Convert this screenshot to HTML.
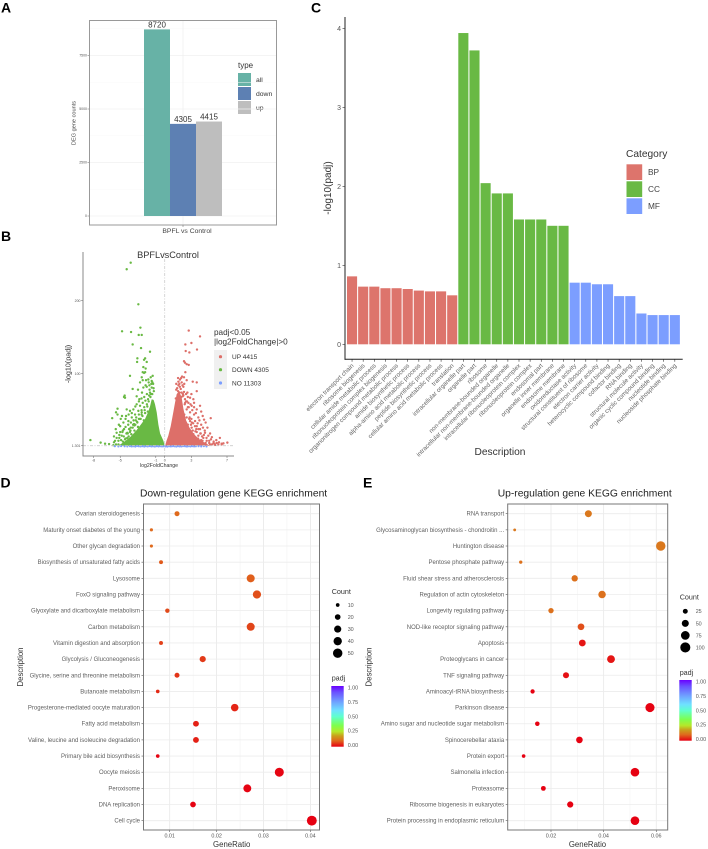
<!DOCTYPE html>
<html lang="en">
<head>
<meta charset="utf-8">
<title>DEG analysis figure</title>
<style>
html,body{margin:0;padding:0;background:#fff;width:708px;height:849px;overflow:hidden}
svg{display:block;font-family:"Liberation Sans",sans-serif;filter:blur(.3px)}
</style>
</head>
<body>
<svg id="fig" xmlns="http://www.w3.org/2000/svg" width="708" height="849" viewBox="0 0 708 849">
<defs>
<linearGradient id="padjGrad" x1="0" y1="1" x2="0" y2="0">
<stop offset="0" stop-color="#e60012"/><stop offset=".1" stop-color="#df6a1d"/><stop offset=".18" stop-color="#c9a01c"/><stop offset=".25" stop-color="#b5e82a"/><stop offset=".35" stop-color="#7dff4e"/><stop offset=".5" stop-color="#5fffd0"/><stop offset=".6" stop-color="#6fe0ff"/><stop offset=".75" stop-color="#6f9cff"/><stop offset=".9" stop-color="#6a50ff"/><stop offset="1" stop-color="#6a00ff"/>
</linearGradient>
</defs>
<rect width="708" height="849" fill="#fff"/>

<g font-weight="700" font-size="14" fill="#000">
<text x="1" y="12.5">A</text>
<text x="1" y="241">B</text>
<text x="311" y="12.5">C</text>
<text x="0.5" y="487.5">D</text>
<text x="363" y="487.5">E</text>
</g>

<g id="panelA">
<text transform="translate(75.5,123) rotate(-90)" text-anchor="middle" font-size="5.6" fill="#444">DEG gene counts</text>
<text x="187" y="233" text-anchor="middle" font-size="6.8" fill="#444">BPFL vs Control</text>
<text x="238" y="68" font-size="8" fill="#333">type</text>
<rect x="238" y="73" width="13" height="13" fill="#67b2a6"/>
<rect x="238" y="87" width="13" height="13" fill="#5d80b3"/>
<rect x="238" y="101" width="13" height="13" fill="#bebebe"/>
<text x="256" y="82" font-size="6.8" fill="#333">all</text>
<text x="256" y="96" font-size="6.8" fill="#333">down</text>
<text x="256" y="110" font-size="6.8" fill="#333">up</text>
</g>

<g id="panelB">
<text x="168" y="258" text-anchor="middle" font-size="9.2" fill="#333">BPFLvsControl</text>
<text transform="translate(70.5,364) rotate(-90)" text-anchor="middle" font-size="7.2" fill="#333">-log10(padj)</text>
<text x="159" y="467" text-anchor="middle" font-size="5.2" fill="#333">log2FoldChange</text>
<text x="214" y="335" font-size="8.2" fill="#333">padj&lt;0.05</text>
<text x="214" y="344.5" font-size="8.2" fill="#333">|log2FoldChange|&gt;0</text>
<rect x="214" y="350" width="13" height="39" fill="#f0f0f0"/>
<circle cx="220.5" cy="356.7" r="1.6" fill="#dd6f69"/>
<circle cx="220.5" cy="369.7" r="1.6" fill="#69b944"/>
<circle cx="220.5" cy="383" r="1.6" fill="#7c9eff"/>
<text x="232" y="359" font-size="6.5" fill="#333">UP 4415</text>
<text x="232" y="372" font-size="6.5" fill="#333">DOWN 4305</text>
<text x="232" y="385.5" font-size="6.5" fill="#333">NO 11303</text>
</g>

<g id="panelC">
<text transform="translate(331,188) rotate(-90)" text-anchor="middle" font-size="10" fill="#333">-log10(padj)</text>
<text x="500" y="455" text-anchor="middle" font-size="10.2" fill="#333">Description</text>
<text x="626" y="157" font-size="10.2" fill="#333">Category</text>
<rect x="626.5" y="164.3" width="15.7" height="15.7" fill="#dd746c"/>
<rect x="626.5" y="181.3" width="15.7" height="15.7" fill="#69b944"/>
<rect x="626.5" y="198.3" width="15.7" height="15.7" fill="#7c9eff"/>
<text x="648" y="175" font-size="8.3" fill="#444">BP</text>
<text x="648" y="192" font-size="8.3" fill="#444">CC</text>
<text x="648" y="209" font-size="8.3" fill="#444">MF</text>
</g>

<g id="panelD">
<text x="140" y="496.7" font-size="10.3" fill="#222">Down-regulation gene KEGG enrichment</text>
<text transform="translate(23,667) rotate(-90)" text-anchor="middle" font-size="7.8" fill="#333">Description</text>
<text x="231.7" y="847" text-anchor="middle" font-size="7.8" fill="#333">GeneRatio</text>
<text x="331.7" y="594" font-size="7.2" fill="#333">Count</text>
<text x="331.7" y="680.7" font-size="7.2" fill="#333">padj</text>
<rect x="331.3" y="686" width="12.4" height="60.7" fill="url(#padjGrad)"/>
</g>

<g id="panelE">
<text x="497.7" y="496.7" font-size="10.3" fill="#222">Up-regulation gene KEGG enrichment</text>
<text transform="translate(371.3,667) rotate(-90)" text-anchor="middle" font-size="7.8" fill="#333">Description</text>
<text x="587.5" y="847" text-anchor="middle" font-size="7.8" fill="#333">GeneRatio</text>
<text x="679.7" y="599.3" font-size="7.2" fill="#333">Count</text>
<text x="679.7" y="675" font-size="7.2" fill="#333">padj</text>
<rect x="679.3" y="680" width="12.4" height="60.7" fill="url(#padjGrad)"/>
</g>
</svg>

<script>
/* ---------- Panel A data ---------- */
const aTypes = ["all","down","up"];
const aCounts = [8720,4305,4415];
const aColors = ["#67b2a6","#5d80b3","#bebebe"];
const aTicks = [0,2500,5000,7500];
const aMinorTicks = [1250,3750,6250,8750];

/* ---------- Panel B data ---------- */
const bXTicks = [-8,-5,-1,0,3,7];
const bYTicks = [1.301,100,200];
const bDownFC = [-3.82,-4.27,-2.96,-2.73,-4.79,-3.78,-2.92,-2.58,-3.6,-2.66,-1.65,-2.2,-3.07,-3.1,-2.32,-2.02,-2.4,-2.14,-3.9,-2.47,-2.2,-1.35,-1.57,-1.46,-1.84,-2.1,-2.47,-2.32,-2.58,-2.77,-2.02,-1.72,-1.46,-2.4,-3,-3.6,-3.15,-2.85,-4.57,-4.5,-4.46,-1.65,-1.87,-2.17,-2.47,-2.77,-3.15,-3.52,-3.9,-4.27,-5.3,-5.47,-5.9,-5.3,-4.94,-4.64,-4.34,-4.08,-3.7,-3.33,-2.96,-2.58,-5,-4.57,-4.2,-3.82,-3.45,-3.07,-5.4,-4.83,-4.46,-5.58,-5.2,-8.35,-7.2,-6.7,-6.25,-5.77,-5.47,-1.3,-1.22,-1.55,-1.75,-1.95,-2.25,-2.6,-2.9,-3.25,-3.55,-3.85,-4.15,-4.75,-5.1,-2.05,-2.35,-2.7,-3.0,-3.4,-3.75,-4.05,-4.4,-1.4,-1.6,-1.9,-2.2,-2.85,-3.2,-3.65];
const bDownLog = [252,243,195,163,158,157,153,153,140,135,130,121,121,116,119,116,109,107,97,102,102,97,95,90,92,91,91,101,95,88,82,84,81,81,78,79,69,65,68,70,67,74,65,63,60,56,58,51,49,51,52,47,39,44,38,33,42,35,40,44,49,47,28,24,19,26,31,33,19,15,10,8,3,9,5.5,4,3.6,2,3,86,76,72,70,55,50,44,38,36,30,22,18,20,12,7,36,38,27,29,17,14,11,60,52,48,46,24,16,10];
const bDownExtraFC = [-1.4,-1.6,-1.8,-2,-2.3,-2.6,-2.9,-3.2,-3.5,-3.8,-4.1,-4.4,-4.7,-5.1,-5.4,-5.7,-3.3,-3.6,-4,-4.3,-4.6,-4.9,-2.5,-2.8,-3.1,-1.7,-2,-2.3,-2.6,-1.5,-1.8,-2.15,-2.55,-2.9,-3.3,-3.7,-4.05,-4.4,-4.8,-5.15,-5.5,-5.7,-5,-3,-3.4,-3.9,-4.2,-4.7,-5.2,-1.25,-1.38];
const bDownExtraLog = [72,68,62,58,54,50,44,40,36,33,30,27,22,16,12,6,30,26,24,18,14,9,42,38,34,78,72,68,66,86,88,84,74,62,55,46,44,38,42,30,24,14,20,27,22,20,12,7,8,80,88];
const bUpFC = [2.7,3.97,3,2.32,3.63,2.36,2.77,2.17,2.28,2.47,2.7,2.32,1.95,2.17,1.72,2.47,1.54,1.91,3.15,3.6,2.1,1.54,1.8,2.17,3.6,2.55,2.85,3.22,3.97,3.6,3.03,2.66,2.28,2.02,2.47,2.85,3.3,4.27,5.17,4.42,3.78,3.41,2.85,2.47,3.03,3.6,3.97,2.66,2.28,3.22,3.78,4.53,4.9,4.34,6.2,4.72,5.47,6.03,6.6,7.04,3.97,3.41,2.85,5.1,5.66,1.3,1.45,1.65,1.85,2.05,2.25,2.4,2.6,1.25,1.5,1.75,1.95,2.2,2.95,3.15,3.45,3.75,4.1,4.6,5.0,5.3,5.85,6.4,2.75,3.05,3.35,3.55,4.05,4.25];
const bUpLog = [159,151,142,140,133,131,129,117,115,113,112,102,96,95,92,91,89,88,89,88,82,84,79,75,76,74,67,65,56,51,56,60,65,69,51,47,44,42,39,37,40,35,35,40,26,28,24,24,28,17,15,19,15,12,12,8,4.5,3,4.5,5.5,5.5,10,15,3,2.3,78,70,74,68,72,58,62,54,66,60,55,50,44,30,22,21,11,9,5,5,3,5,4,38,33,13,24,18,8];
const bUpExtraFC = [1.4,1.5,1.7,1.9,2.1,2.3,2.5,2.7,2.9,3.1,3.3,3.5,3.7,3.9,4.1,4.3,4.5,4.7,5,5.2,5.5,5.8,6.1,6.4,2.6,2.8,3,3.2,3.4,3.6,3.8,4,4.2,4.4,1.3,1.5,1.65,1.85,2,2.2,2.4,2.6,3,3.3,4.1,4.6,4.8,5.1,5.3,5.6];
const bUpExtraLog = [80,76,82,74,70,60,62,54,58,50,54,46,32,36,30,26,22,12,8,10,7,9,6,3,30,40,38,32,28,20,24,18,14,16,86,94,86,94,84,86,72,68,72,60,48,33,26,18,13,4];
const bNoFC = [-5.6,-5.2,-4.9,-4.5,-4.2,-3.9,-3.7,-3.5,-3.3,-3.1,-2.9,-2.7,-2.5,-2.3,-2.1,-1.9,-1.7,-1.5,-1.3,-1.1,-0.9,-0.7,-0.5,-0.3,-0.1,0.1,0.3,0.5,0.7,0.9,1.1,1.3,1.5,1.7,1.9,2.1,2.3,2.5,2.7,2.9,3.1,3.3,3.5,3.8,4.1,4.4,4.7];
const bNoLog = [0.6,0.4,0.8,0.5,0.3,0.7,0.4,0.6,0.2,0.9,0.5,0.3,0.7,0.2,0.6,0.4,0.8,0.3,0.5,0.2,0.7,0.4,0.6,0.3,0.5,0.4,0.2,0.6,0.3,0.7,0.5,0.2,0.6,0.4,0.3,0.8,0.5,0.2,0.6,0.4,0.7,0.3,0.5,0.6,0.4,0.7,0.3];
const bDownCloudFC = [0,-0.15,-0.52,-0.71,-0.9,-1.09,-1.25,-1.46,-1.65,-1.84,-2.2,-2.7,-3.2,-3.8,-4.4,-5,-5.3];
const bDownCloudLog = [1.3,8,18,30,47,58,64,65,55,48,38,30,22,14,8,3,1.3];
const bUpCloudFC = [0.05,0.2,0.41,0.67,0.97,1.16,1.35,1.6,1.9,2.1,2.4,2.8,3.3,3.8,4.4,5,5.2];
const bUpCloudLog = [1.3,8,15,28,47,60,72,76,68,52,36,26,17,11,6,2,1.3];

/* ---------- Panel C data ---------- */
const cCategories = ["BP","BP","BP","BP","BP","BP","BP","BP","BP","BP","CC","CC","CC","CC","CC","CC","CC","CC","CC","CC","MF","MF","MF","MF","MF","MF","MF","MF","MF","MF"];
const cTerms = ["electron transport chain","ribosome biogenesis","cellular amide metabolic process","ribonucleoprotein complex biogenesis","organonitrogen compound metabolic process","amide biosynthetic process","alpha-amino acid metabolic process","peptide biosynthetic process","cellular amino acid metabolic process","translation","intracellular organelle part","organelle part","ribosome","non-membrane-bounded organelle","intracellular non-membrane-bounded organelle","intracellular ribonucleoprotein complex","ribonucleoprotein complex","endosomal part","organelle inner membrane","endosome membrane","oxidoreductase activity","structural constituent of ribosome","electron carrier activity","heterocyclic compound binding","cofactor binding","RNA binding","structural molecule activity","organic cyclic compound binding","nucleotide binding","nucleoside phosphate binding"];
const cValues = [0.86,0.73,0.73,0.71,0.71,0.70,0.68,0.67,0.67,0.62,3.94,3.72,2.04,1.91,1.91,1.58,1.58,1.58,1.50,1.50,0.78,0.78,0.76,0.76,0.61,0.61,0.39,0.37,0.37,0.37];
const cTicks = [0,1,2,3,4];
const cCategoryNames = ["BP","CC","MF"];
const cCategoryColors = ["#dd746c","#69b944","#7c9eff"];

/* ---------- Panel D data ---------- */
const dTerms = ["Ovarian steroidogenesis","Maturity onset diabetes of the young","Other glycan degradation","Biosynthesis of unsaturated fatty acids","Lysosome","FoxO signaling pathway","Glyoxylate and dicarboxylate metabolism","Carbon metabolism","Vitamin digestion and absorption","Glycolysis / Gluconeogenesis","Glycine, serine and threonine metabolism","Butanoate metabolism","Progesterone-mediated oocyte maturation","Fatty acid metabolism","Valine, leucine and isoleucine degradation","Primary bile acid biosynthesis","Oocyte meiosis","Peroxisome","DNA replication","Cell cycle"];
const dRatio = [0.01156,0.0061,0.0061,0.00815,0.02727,0.0286,0.0095,0.02727,0.00815,0.01704,0.01156,0.00745,0.02386,0.0156,0.0156,0.00745,0.03337,0.02655,0.01497,0.0403];
const dCount = [16,8,8,11,37,39,13,37,11,23,16,10,33,21,21,10,46,36,20,55];
const dPadj = [0.1,0.1,0.1,0.085,0.09,0.075,0.07,0.065,0.06,0.055,0.05,0.04,0.035,0.03,0.03,0.005,0.005,0.003,0.002,0.001];
const dXTicks = [0.01,0.02,0.03,0.04];
const dXMinor = [0.015,0.025,0.035];
const dLegendCounts = [10,20,30,40,50];

/* ---------- Panel E data ---------- */
const eTerms = ["RNA transport","Glycosaminoglycan biosynthesis - chondroitin ...","Huntington disease","Pentose phosphate pathway","Fluid shear stress and atherosclerosis","Regulation of actin cytoskeleton","Longevity regulating pathway","NOD-like receptor signaling pathway","Apoptosis","Proteoglycans in cancer","TNF signaling pathway","Aminoacyl-tRNA biosynthesis","Parkinson disease","Amino sugar and nucleotide sugar metabolism","Spinocerebellar ataxia","Protein export","Salmonella infection","Proteasome","Ribosome biogenesis in eukaryotes","Protein processing in endoplasmic reticulum"];
const eRatio = [0.0342,0.0062,0.0617,0.0085,0.029,0.0394,0.02,0.0314,0.0319,0.0428,0.0257,0.013,0.0576,0.0148,0.0308,0.0096,0.0519,0.0171,0.0273,0.0519];
const eCount = [49,9,88,12,41,56,29,45,46,61,37,19,82,21,44,14,74,24,39,74];
const ePadj = [0.12,0.12,0.12,0.11,0.11,0.11,0.11,0.075,0.02,0.02,0.015,0.002,0.002,0.002,0.002,0.001,0.001,0.001,0.001,0.001];
const eXTicks = [0.02,0.04,0.06];
const eXMinor = [0.01,0.03,0.05];
const eLegendCounts = [25,50,75,100];

const legendPadjLabels = [1,0.75,0.5,0.25,0];

/* ---------- helpers ---------- */
const NS = "http://www.w3.org/2000/svg";
function mk(parent, tag, attrs, txt) {
  const e = document.createElementNS(NS, tag);
  for (const k in attrs) e.setAttribute(k, attrs[k]);
  if (txt !== undefined) e.textContent = txt;
  parent.appendChild(e);
  return e;
}
const panelA = document.getElementById("panelA");
const panelB = document.getElementById("panelB");
const panelC = document.getElementById("panelC");

/* ---------- Panel A ---------- */
const aY = v => 216 - v * 0.0214;
const aX = i => 144 + 26 * i;
aMinorTicks.forEach(t => {
  const el = mk(panelA, "line", {x1:89.5,x2:276,y1:aY(t),y2:aY(t),stroke:"#f8f8f8","stroke-width":.6});
  
  
});
aTicks.forEach(t => {
  const g = mk(panelA, "line", {x1:89.5,x2:276,y1:aY(t),y2:aY(t),stroke:"#f0f0f0","stroke-width":.8});
  
  
  const tk = mk(panelA, "line", {x1:87.5,x2:89.5,y1:aY(t),y2:aY(t),stroke:"#666","stroke-width":.5});
  
  
  const lb = mk(panelA, "text", {x:87,y:aY(t)+1.2,"text-anchor":"end","font-size":3.5,fill:"#555"}, String(t));
  
  
});
const aVGrid = mk(panelA, "line", {x1:183,x2:183,y1:21,y2:225,stroke:"#f0f0f0","stroke-width":.8});


aCounts.forEach((v, i) => {
  const bar = mk(panelA, "rect", {x:aX(i),y:aY(v),width:26,height:aY(0)-aY(v),fill:aColors[i]});
  
  
  const lb = mk(panelA, "text", {x:aX(i)+13,y:aY(v)-1.8,"text-anchor":"middle","font-size":8,fill:"#333"}, String(v));
  
  
});
const aBox = mk(panelA, "rect", {x:89.5,y:20.5,width:187,height:204.5,fill:"none",stroke:"#999","stroke-width":1});


const aXTick = mk(panelA, "line", {x1:183,x2:183,y1:225,y2:227,stroke:"#666","stroke-width":.5});



/* ---------- Panel B ---------- */
const bX = v => 164.7 + v * 8.9;
const bY = v => 445.7 - (v - 1.3) * 0.73;
function cloud(fcs, logs, color, name) {
  const pts = fcs.map((f, i) => bX(f).toFixed(1) + "," + bY(logs[i]).toFixed(1)).join(" ");
  const el = mk(panelB, "polygon", {points:pts,fill:color});
  
  
}
function scatter(fcs, logs, color, r, name) {
  fcs.forEach((f, i) => {
    const el = mk(panelB, "circle", {cx:bX(f),cy:bY(logs[i]),r:r,fill:color});
    
    
  });
}
cloud(bDownCloudFC, bDownCloudLog, "#69b944", "down-dense-cloud");
cloud(bUpCloudFC, bUpCloudLog, "#dd6f69", "up-dense-cloud");
scatter(bDownFC, bDownLog, "#69b944", 1.2, "point-down");
scatter(bDownExtraFC, bDownExtraLog, "#69b944", 1.2, "point-down");
scatter(bUpFC, bUpLog, "#dd6f69", 1.2, "point-up");
scatter(bUpExtraFC, bUpExtraLog, "#dd6f69", 1.2, "point-up");
scatter(bNoFC, bNoLog, "#7c9eff", 1.1, "point-no");
const bVLine = mk(panelB, "line", {x1:bX(0),x2:bX(0),y1:252,y2:456,stroke:"#ccc","stroke-width":.8,"stroke-dasharray":"3 1.5 1 1.5"});


const bHLine = mk(panelB, "line", {x1:83,x2:234,y1:bY(1.301),y2:bY(1.301),stroke:"#ccc","stroke-width":.8,"stroke-dasharray":"3 1.5 1 1.5"});


const bAxisY = mk(panelB, "line", {x1:83,x2:83,y1:252,y2:456,stroke:"#888","stroke-width":1});


const bAxisX = mk(panelB, "line", {x1:82.5,x2:234,y1:456,y2:456,stroke:"#888","stroke-width":1});


bXTicks.forEach(t => {
  const tk = mk(panelB, "line", {x1:bX(t),x2:bX(t),y1:456,y2:458,stroke:"#666","stroke-width":.5});
  
  
  const lb = mk(panelB, "text", {x:bX(t),y:461.5,"text-anchor":"middle","font-size":3.6,fill:"#555"}, String(t));
  
  
});
bYTicks.forEach(t => {
  const tk = mk(panelB, "line", {x1:81,x2:83,y1:bY(t),y2:bY(t),stroke:"#666","stroke-width":.5});
  
  
  const lb = mk(panelB, "text", {x:80.5,y:bY(t)+1.2,"text-anchor":"end","font-size":3.5,fill:"#555"}, String(t));
  
  
});

/* ---------- Panel C ---------- */
const cY = v => 344.3 - v * 79;
const cX = i => 347 + i * 11.13;
const cBarW = 10.1;
cValues.forEach((v, i) => {
  const color = cCategoryColors[cCategoryNames.indexOf(cCategories[i])];
  const bar = mk(panelC, "rect", {x:cX(i),y:cY(v),width:cBarW,height:cY(0)-cY(v),fill:color});
  
  
  const cx = cX(i) + cBarW / 2;
  const tk = mk(panelC, "line", {x1:cx,x2:cx,y1:359.3,y2:361.8,stroke:"#333","stroke-width":.6});
  
  
  const lb = mk(panelC, "text", {transform:"translate(" + (cx + 2) + ",366) rotate(-45)","text-anchor":"end","font-size":6.2,fill:"#666"}, cTerms[i]);
  
  
});
const cAxisY = mk(panelC, "line", {x1:345,x2:345,y1:17,y2:359.8,stroke:"#222","stroke-width":1});


const cAxisX = mk(panelC, "line", {x1:344.5,x2:682.7,y1:359.3,y2:359.3,stroke:"#222","stroke-width":1});


cTicks.forEach(t => {
  const tk = mk(panelC, "line", {x1:342.5,x2:345,y1:cY(t),y2:cY(t),stroke:"#333","stroke-width":.6});
  
  
  const lb = mk(panelC, "text", {x:341,y:cY(t)+2.5,"text-anchor":"end","font-size":7,fill:"#555"}, String(t));
  
  
});

/* ---------- Panels D & E ---------- */
const padjStops = [[0,[230,0,18]],[0.1,[223,106,29]],[0.18,[201,160,28]],[0.25,[181,232,42]],[0.35,[125,255,78]],[0.5,[95,255,208]],[0.6,[111,224,255]],[0.75,[111,156,255]],[0.9,[106,80,255]],[1,[106,0,255]]];
function padjColor(p) {
  for (let i = 1; i < padjStops.length; i++) {
    if (p <= padjStops[i][0]) {
      const a = padjStops[i-1], b = padjStops[i], t = (p - a[0]) / (b[0] - a[0]);
      return "rgb(" + a[1].map((c, k) => Math.round(c + (b[1][k] - c) * t)).join(",") + ")";
    }
  }
  return "rgb(106,0,255)";
}
const rowY = i => 513.7 + i * 16.157;
function drawDotPanel(cfg) {
  const g = document.getElementById(cfg.id);
  const L = cfg.left, R = cfg.right, T = 504, B = 830;
  cfg.minor.forEach(t => {
    const el = mk(g, "line", {x1:cfg.x(t),x2:cfg.x(t),y1:T,y2:B,stroke:"#f3f3f3","stroke-width":.6});
    
    
  });
  cfg.ticks.forEach(t => {
    const el = mk(g, "line", {x1:cfg.x(t),x2:cfg.x(t),y1:T,y2:B,stroke:"#e8e8e8","stroke-width":.8});
    
    
    const tk = mk(g, "line", {x1:cfg.x(t),x2:cfg.x(t),y1:B,y2:B+2,stroke:"#555","stroke-width":.6});
    
    
    const lb = mk(g, "text", {x:cfg.x(t),y:837.7,"text-anchor":"middle","font-size":5.4,fill:"#555"}, t.toFixed(2));
    
    
  });
  cfg.terms.forEach((term, i) => {
    const y = rowY(i);
    const el = mk(g, "line", {x1:L,x2:R,y1:y,y2:y,stroke:"#ececec","stroke-width":.8});
    
    
    const tk = mk(g, "line", {x1:L-2,x2:L,y1:y,y2:y,stroke:"#555","stroke-width":.6});
    
    
    const lb = mk(g, "text", {x:L-3.5,y:y+2,"text-anchor":"end","font-size":6,fill:"#5f5f5f"}, term);
    
    
  });
  cfg.ratio.forEach((v, i) => {
    const dot = mk(g, "circle", {cx:cfg.x(v),cy:rowY(i),r:cfg.r(cfg.count[i]),fill:padjColor(cfg.padj[i])});
    
    
  });
  const box = mk(g, "rect", {x:L,y:T,width:R-L,height:B-T,fill:"none",stroke:"#777","stroke-width":1});
  
  
  cfg.legendCounts.forEach((c, i) => {
    const y = cfg.legendY + i * 12.05;
    const dot = mk(g, "circle", {cx:cfg.legendX,cy:y,r:cfg.r(c),fill:"#000"});
    
    
    const lb = mk(g, "text", {x:cfg.legendLabelX,y:y+1.9,"font-size":5.4,fill:"#555"}, String(c));
    
    
  });
  legendPadjLabels.forEach(v => {
    const lb = mk(g, "text", {x:cfg.legendLabelX,y:cfg.barZeroY - v * 57.3 + 1.9,"font-size":5.4,fill:"#555"}, v.toFixed(2));
    
    
  });
}
drawDotPanel({
  id:"panelD", left:143.5, right:319.5, terms:dTerms, ratio:dRatio, count:dCount, padj:dPadj,
  ticks:dXTicks, minor:dXMinor, x:v => 169.7 + (v - 0.01) * 4690,
  r:c => Math.sqrt(Math.max(1.3, -1.3 + 0.47 * c)),
  legendCounts:dLegendCounts, legendX:337.7, legendY:605, legendLabelX:347.7, barZeroY:745
});
drawDotPanel({
  id:"panelE", left:507.7, right:667.7, terms:eTerms, ratio:eRatio, count:eCount, padj:ePadj,
  ticks:eXTicks, minor:eXMinor, x:v => 551 + (v - 0.02) * 2632,
  r:c => Math.sqrt(Math.max(1.3, -0.3 + 0.256 * c)),
  legendCounts:eLegendCounts, legendX:685.3, legendY:611.3, legendLabelX:695.7, barZeroY:739
});
</script>
</body>
</html>
